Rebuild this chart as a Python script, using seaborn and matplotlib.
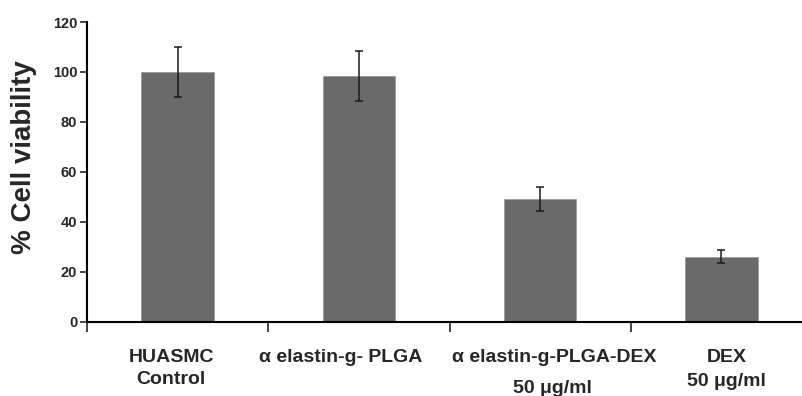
import seaborn as sns
import pandas as pd
import numpy as np
import matplotlib.pyplot as plt
import matplotlib.transforms as mtransforms

groups = ['HUASMC Control', 'a elastin-g- PLGA', 'a elastin-g-PLGA-DEX 50', 'DEX 50']
viability = [100.0, 98.5, 49.0, 26.0]
sd = [10.0, 10.0, 4.8, 2.6]

# label lines under each bar: (text, x offset from bar centre, baseline in axes fraction)
label_lines = [
    [('HUASMC', -0.035, -0.135), ('Control', -0.035, -0.209)],
    [('\u03b1 elastin-g- PLGA', -0.10, -0.135)],
    [('\u03b1 elastin-g-PLGA-DEX', 0.08, -0.135), ('50 \u03bcg/ml', 0.07, -0.239)],
    [('DEX', 0.03, -0.135), ('50 \u03bcg/ml', 0.03, -0.215)],
]

sns.set_style('white')
plt.rcParams['font.family'] = ['Liberation Sans', 'DejaVu Sans']

df = pd.DataFrame({'group': groups, 'viability': viability, 'sd': sd})

fig = plt.figure(figsize=(8.02, 3.96), dpi=100)
ax = fig.add_axes([87 / 802, 74.5 / 396, 725 / 802, 299.5 / 396])

sns.barplot(data=df, x='group', y='viability', color='#6a6a6a', saturation=1,
            width=0.4, edgecolor='#9a9a9a', linewidth=0.6, errorbar=None, ax=ax)
ax.errorbar(np.arange(len(groups)), df['viability'], yerr=df['sd'], fmt='none',
            ecolor='#1a1a1a', elinewidth=1.1, capsize=3.2, capthick=1.1)

ax.set_xlim(-0.5, len(groups) - 0.5)
ax.set_ylim(0, 120)
ax.set_yticks(range(0, 121, 20))
ax.tick_params(axis='y', labelsize=10.5, length=5, width=1.2, direction='out', left=True, pad=2)
for t in ax.get_yticklabels():
    t.set_fontweight('bold')
ax.set_xticks(np.arange(-0.5, len(groups), 1.0))
ax.set_xticklabels([])
ax.tick_params(axis='x', length=7, width=1.2, direction='out', bottom=True)

ax.set_xlabel('')
ax.set_ylabel('% Cell viability', fontsize=20, fontweight='bold')
ax.yaxis.set_label_coords(-0.069, 0.548)

for s in ['top', 'right']:
    ax.spines[s].set_visible(False)
for s in ['left', 'bottom']:
    ax.spines[s].set_color('black')
    ax.spines[s].set_linewidth(1.5)

trans = mtransforms.blended_transform_factory(ax.transData, ax.transAxes)
for i, lines in enumerate(label_lines):
    for txt, dx, yy in lines:
        ax.text(i + dx, yy, txt, transform=trans, ha='center', va='baseline',
                fontsize=14, fontweight='bold', clip_on=False)

fig.savefig('out.png', dpi=100)
